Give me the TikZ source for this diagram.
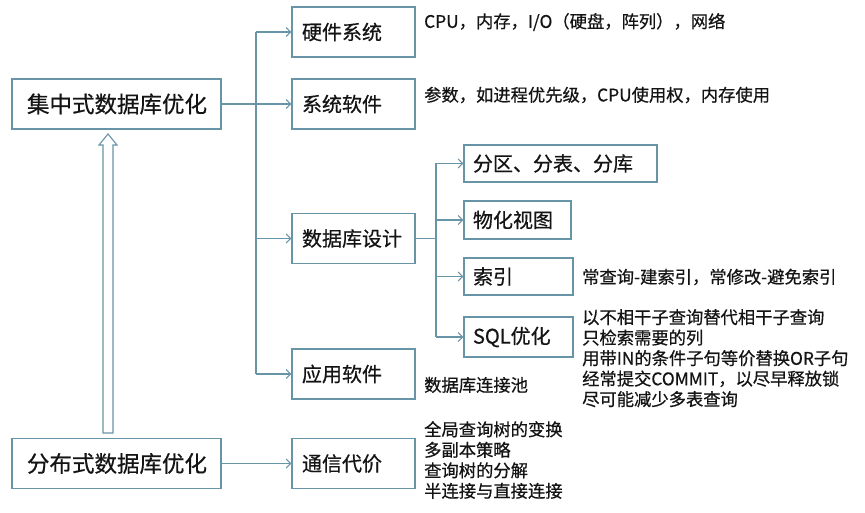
\documentclass[tikz,border=0pt]{standalone}
\usepackage{fontspec}
\setmainfont{Noto Sans CJK SC}[RawFeature={embolden=0.6}]
\usetikzlibrary{arrows.meta,calc}
\definecolor{lc}{RGB}{104,148,168}
\definecolor{tc}{RGB}{20,20,20}
\tikzset{
  box/.style={draw=lc,line width=1.1pt,rectangle,inner ysep=0pt,inner xsep=#1,align=left,text=tc},
  conn/.style={draw=lc,line width=1.1pt},
  arr/.style={conn,-{Straight Barb[length=4.5pt,width=9pt,line width=1.1pt]}},
  desc/.style={anchor=west,inner sep=0pt,text=tc,font=\fontsize{17.3}{20.5}\selectfont,align=left},
}
\begin{document}
\begin{tikzpicture}[x=1pt,y=-1pt]
\useasboundingbox[fill=white] (0,0) rectangle (865,513);
% main boxes
\node[box=15pt,text width=179pt,minimum height=50pt,font=\fontsize{22.5}{24}\selectfont] (jz) at (116.5,104) {集中式数据库优化};
\node[box=15pt,text width=179pt,minimum height=50pt,font=\fontsize{22.5}{24}\selectfont] (fb) at (116.5,463.5) {分布式数据库优化};
% level 1 boxes
\node[box=10pt,text width=103pt,minimum height=50pt,font=\fontsize{20}{22}\selectfont] (hw) at (353.5,32) {硬件系统};
\node[box=10pt,text width=103pt,minimum height=50pt,font=\fontsize{20}{22}\selectfont] (sw) at (353.5,104) {系统软件};
\node[box=10pt,text width=103pt,minimum height=50pt,font=\fontsize{20}{22}\selectfont] (db) at (353.5,238.5) {数据库设计};
\node[box=10pt,text width=103pt,minimum height=50pt,font=\fontsize{20}{22}\selectfont] (app) at (353.5,374) {应用软件};
\node[box=10pt,text width=103pt,minimum height=50pt,font=\fontsize{20}{22}\selectfont] (comm) at (353.5,463.5) {通信代价};
% level 2 boxes
\node[box=9pt,text width=175pt,minimum height=37pt,font=\fontsize{20}{22}\selectfont] (part) at (560.5,163.5) {分区、分表、分库};
\node[box=9pt,text width=89pt,minimum height=38pt,font=\fontsize{20}{22}\selectfont] (mv) at (517.5,220) {物化视图};
\node[box=9pt,text width=91pt,minimum height=37pt,font=\fontsize{20}{22}\selectfont] (idx) at (518.5,276.5) {索引};
\node[box=9pt,text width=91pt,minimum height=40pt,font=\fontsize{20}{22}\selectfont] (sql) at (518.5,337) {SQL优化};
% descriptions
\node[desc] (dhw) at (424,22) {CPU，内存，I/O（硬盘，阵列），网络};
\node[desc] (dsw) at (424,95) {参数，如进程优先级，CPU使用权，内存使用};
\node[desc] (didx) at (582,277) {常查询-建索引，常修改-避免索引};
\node[desc,anchor=north west] (dsql) at (582,309) {以不相干子查询替代相干子查询\\只检索需要的列\\用带IN的条件子句等价替换OR子句\\经常提交COMMIT，以尽早释放锁\\尽可能减少多表查询};
\node[desc] (dapp) at (424,385) {数据库连接池};
\node[desc,anchor=north west] (dcomm) at (424,421) {全局查询树的变换\\多副本策略\\查询树的分解\\半连接与直接连接};
% connectors
\coordinate (tk) at (256,0);
\coordinate (sk) at (436,0);
\draw[arr] (jz.east) -- (sw.west);
\draw[conn] (tk |- hw.west) -- (tk |- app.west);
\draw[arr] (tk |- hw.west) -- (hw.west);
\draw[arr] (tk |- db.west) -- (db.west);
\draw[arr] (tk |- app.west) -- (app.west);
\draw[arr] (fb.east) -- (comm.west);
\draw[conn] (db.east) -- (sk |- db.east);
\draw[conn] (sk |- part.west) -- (sk |- sql.west);
\draw[arr] (sk |- part.west) -- (part.west);
\draw[arr] (sk |- mv.west) -- (mv.west);
\draw[arr] (sk |- idx.west) -- (idx.west);
\draw[arr] (sk |- sql.west) -- (sql.west);
% hollow block arrow from fb up to jz
\draw[conn,fill=white,line join=miter] (103,433) -- (103,145) -- (99,145) -- (108,134) -- (117,145) -- (113,145) -- (113,433) -- cycle;
\end{tikzpicture}
\end{document}
